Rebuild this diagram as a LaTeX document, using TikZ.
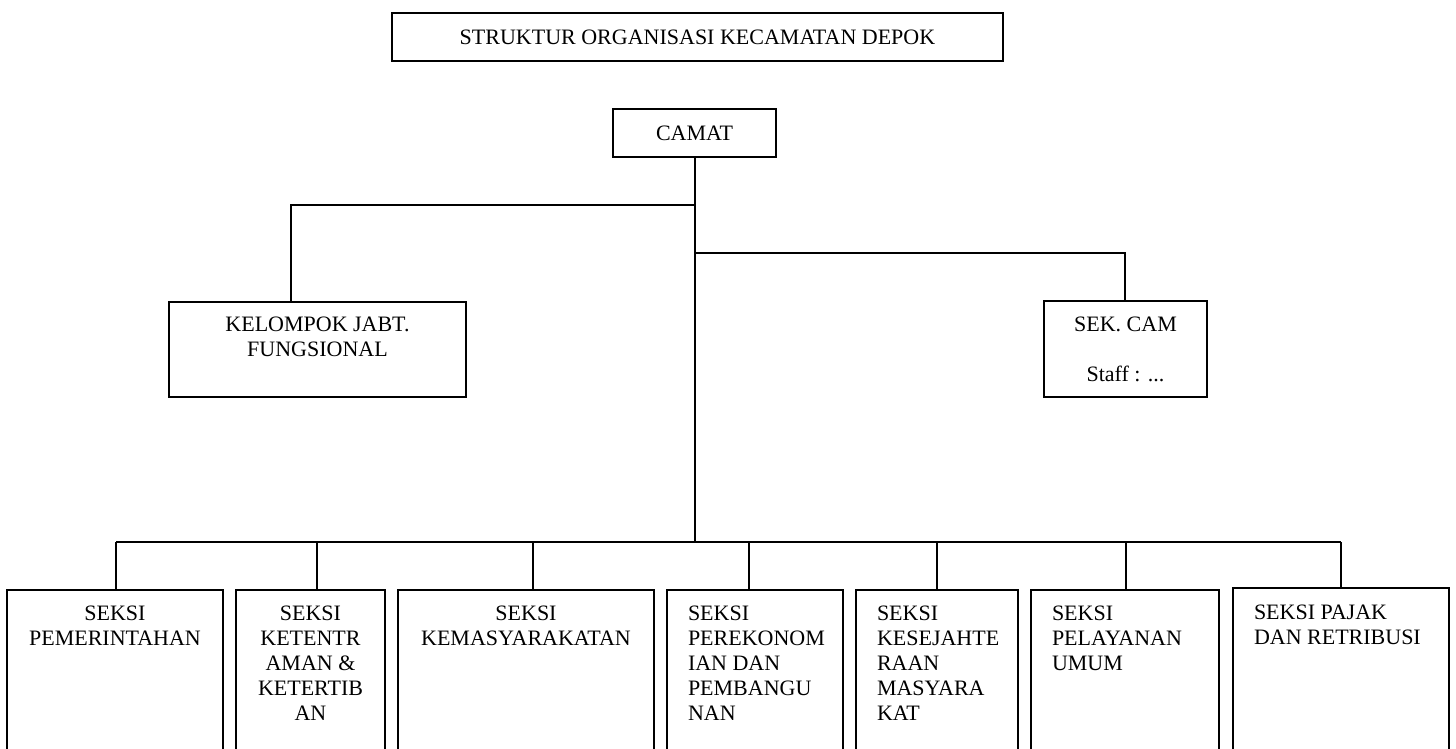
\documentclass[tikz,border=0pt]{standalone}
\usepackage{fontspec}
\setmainfont{Liberation Serif}
\newcommand\cbox[4]{\parbox[c][#1][t]{#2}{\centering\hyphenpenalty=10000\vspace*{#3}#4\par}}
\newcommand\lbox[4]{\parbox[c][#1][t]{#2}{\raggedright\leftskip=21pt\hyphenpenalty=10000\vspace*{#3}#4\par}}
\begin{document}
\begin{tikzpicture}[x=1pt,y=-1pt,line width=2pt,line join=miter,
  box/.style={draw,line width=2pt,inner sep=0pt,outer sep=0pt,anchor=north west,font=\fontsize{22}{25}\selectfont},
  link/.style={draw,line width=2pt}]
\useasboundingbox (0,0) rectangle (1456,749);
\clip (0,0) rectangle (1456,749);
% top boxes
\node[box,minimum width=611pt,minimum height=48pt] (title) at (392,13) {STRUKTUR ORGANISASI KECAMATAN DEPOK};
\node[box,minimum width=163pt,minimum height=48pt] (camat) at (613,109) {CAMAT};
\node[box] (kel) at (169,302) {\cbox{95pt}{297pt}{15pt}{KELOMPOK JABT.\\FUNGSIONAL}};
\node[box] (sek) at (1044,301) {\cbox{96pt}{163pt}{16pt}{SEK. CAM\\[25pt]Staff : ...}};
% bottom boxes
\node[box] (b1) at (7,590) {\cbox{230pt}{216pt}{16pt}{SEKSI\\PEMERINTAHAN}};
\node[box] (b2) at (236,590) {\cbox{230pt}{149pt}{16pt}{SEKSI\\KETENTR\\AMAN \&\\KETERTIB\\AN}};
\node[box] (b3) at (398,590) {\cbox{230pt}{256pt}{16pt}{SEKSI\\KEMASYARAKATAN}};
\node[box] (b4) at (667,590) {\lbox{230pt}{176pt}{16pt}{SEKSI\\PEREKONOM\\IAN DAN\\PEMBANGU\\NAN}};
\node[box] (b5) at (856,590) {\lbox{230pt}{162pt}{16pt}{SEKSI\\KESEJAHTE\\RAAN\\MASYARA\\KAT}};
\node[box] (b6) at (1031,590) {\lbox{230pt}{188pt}{16pt}{SEKSI\\PELAYANAN\\UMUM}};
\node[box] (b7) at (1233,588) {\lbox{232pt}{216pt}{17pt}{SEKSI PAJAK\\DAN RETRIBUSI}};
% junction coordinates
\coordinate (kj) at (291,205);
\coordinate (sj) at (1125,253);
\coordinate (c1) at (116,542);
\coordinate (c2) at (317,542);
\coordinate (c3) at (533,542);
\coordinate (c4) at (749,542);
\coordinate (c5) at (937,542);
\coordinate (c6) at (1126,542);
\coordinate (c7) at (1341,542);
% connectors
\draw[link] (camat.south) -- (camat.south |- c1);
\draw[link] (camat.south |- kj) -- (kj) -- (kj |- kel.north);
\draw[link] (camat.south |- sj) -- (sj) -- (sj |- sek.north);
\draw[link] (c1) -- (c7);
\draw[link] (c1) -- (c1 |- b1.north);
\draw[link] (c2) -- (c2 |- b2.north);
\draw[link] (c3) -- (c3 |- b3.north);
\draw[link] (c4) -- (c4 |- b4.north);
\draw[link] (c5) -- (c5 |- b5.north);
\draw[link] (c6) -- (c6 |- b6.north);
\draw[link] (c7) -- (c7 |- b7.north);
\end{tikzpicture}
\end{document}
